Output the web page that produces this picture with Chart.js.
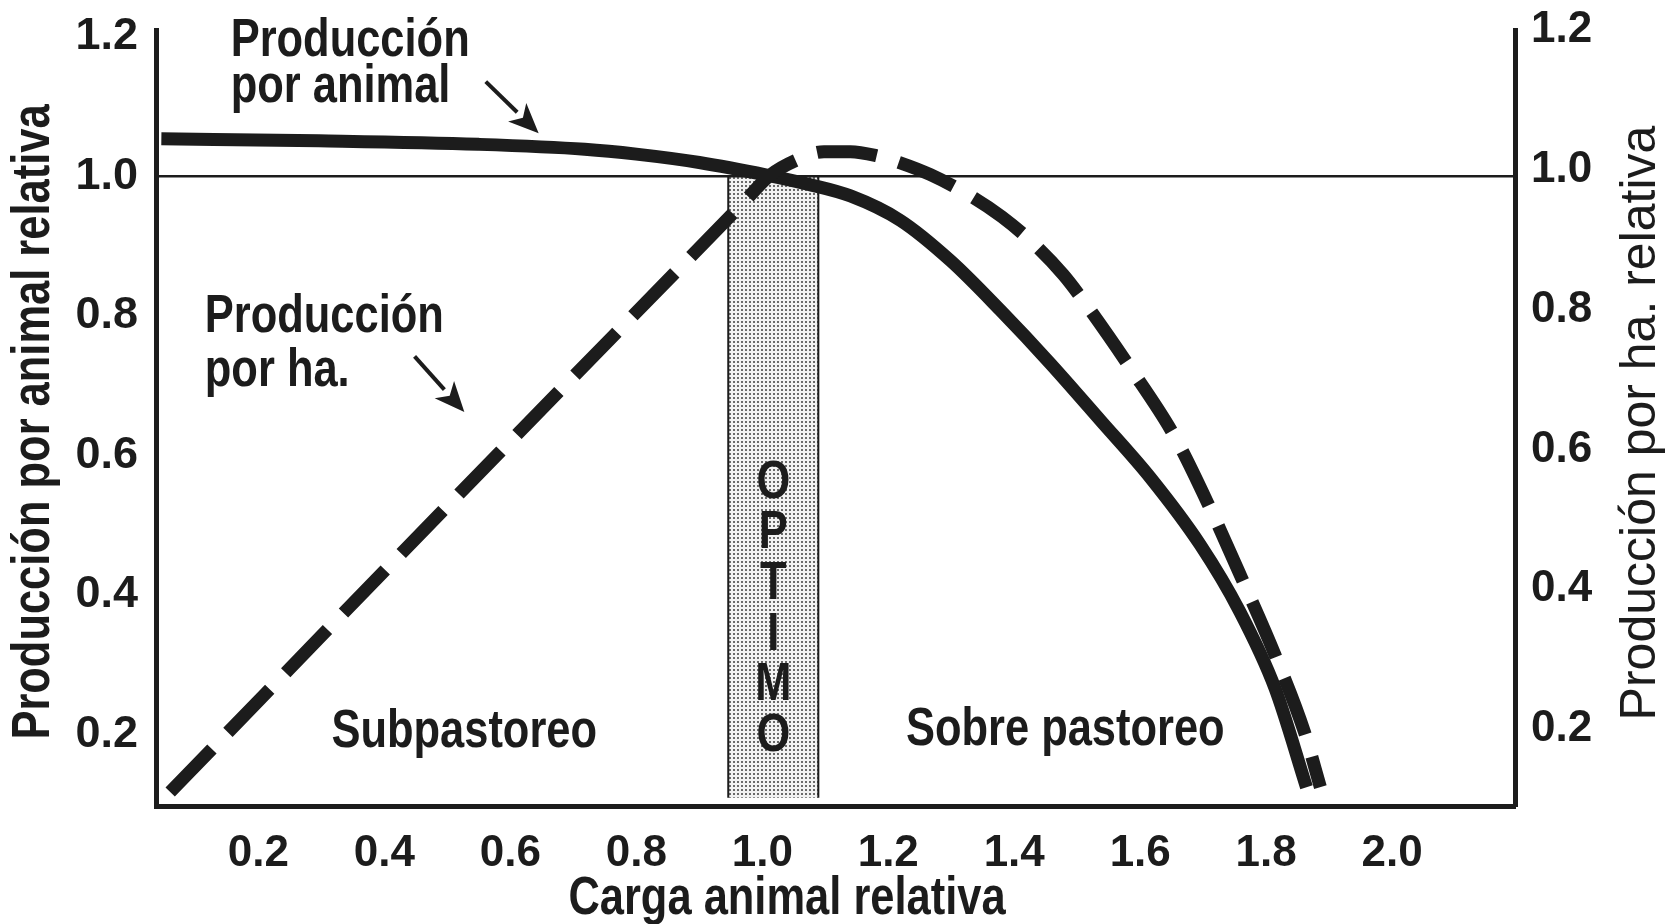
<!DOCTYPE html>
<html>
<head>
<meta charset="utf-8">
<script src="https://cdn.jsdelivr.net/npm/chart.js@4.4.1/dist/chart.umd.min.js"></script>
<style>
  html, body { margin: 0; padding: 0; background: #fff; }
  #wrap { width: 1667px; height: 924px; position: relative; }
</style>
</head>
<body>
<div id="wrap"><canvas id="chart"></canvas></div>
<script>
// values (carga animal relativa on x)
const porAnimalX = [0.046, 0.296, 0.549, 0.718, 0.800, 0.900, 1.007, 1.072, 1.140, 1.219, 1.299, 1.378, 1.457, 1.537, 1.616, 1.695, 1.758, 1.814, 1.864];
const porAnimalY = [1.054, 1.051, 1.046, 1.039, 1.032, 1.020, 1.002, 0.989, 0.972, 0.937, 0.879, 0.808, 0.732, 0.650, 0.568, 0.472, 0.376, 0.266, 0.124];

const porHaX = [0.060, 0.515, 0.971, 1.012, 1.052, 1.098, 1.140, 1.182, 1.219, 1.267, 1.332, 1.380, 1.429, 1.478, 1.508, 1.584, 1.655, 1.711, 1.761, 1.814, 1.861, 1.886];
const porHaY = [0.110, 0.533, 0.954, 0.992, 1.013, 1.026, 1.026, 1.020, 1.010, 0.993, 0.962, 0.933, 0.896, 0.850, 0.815, 0.717, 0.618, 0.516, 0.416, 0.306, 0.195, 0.117];

const optimoX = [0.946, 1.089];
const optimoTop = 1.0;
const optimoBottom = 0.109;

const xTicks = [0.2, 0.4, 0.6, 0.8, 1.0, 1.2, 1.4, 1.6, 1.8, 2.0];
const yTicks = [0.2, 0.4, 0.6, 0.8, 1.0, 1.2];

const INK = '#1c1c1c';
const SANS = "'Liberation Sans', Arial, sans-serif";
const SQUEEZE = 0.82;   // the figure uses a narrow face

// text notes and arrows, placed in data coordinates
const notes = [
  { text: 'Producción', x: 0.156, y: 1.172 },
  { text: 'por animal', x: 0.156, y: 1.107 },
  { text: 'Producción', x: 0.115, y: 0.777 },
  { text: 'por ha.', x: 0.115, y: 0.700 },
  { text: 'Subpastoreo', x: 0.316, y: 0.182 },
  { text: 'Sobre pastoreo', x: 1.228, y: 0.185 }
];
const arrows = [
  { from: [0.561, 1.136], to: [0.645, 1.062] },
  { from: [0.448, 0.742], to: [0.527, 0.662] }
];

function dots() {
  const c = document.createElement('canvas');
  c.width = 4; c.height = 4;
  const g = c.getContext('2d');
  g.fillStyle = '#f2f2f2';
  g.fillRect(0, 0, 4, 4);
  g.fillStyle = '#6a6a6a';
  g.fillRect(1, 1, 2, 2);
  return g.createPattern(c, 'repeat');
}

function narrowText(ctx, text, x, y, rot) {
  ctx.save();
  ctx.translate(x, y);
  if (rot) ctx.rotate(rot);
  ctx.scale(SQUEEZE, 1);
  ctx.fillText(text, 0, 0);
  ctx.restore();
}

function drawArrow(ctx, x0, y0, x1, y1) {
  const a = Math.atan2(y1 - y0, x1 - x0);
  const len = 30, half = 13;
  const bx = x1 - Math.cos(a) * len, by = y1 - Math.sin(a) * len;
  ctx.lineWidth = 4;
  ctx.beginPath();
  ctx.moveTo(x0, y0);
  ctx.lineTo(bx, by);
  ctx.stroke();
  ctx.beginPath();
  ctx.moveTo(x1, y1);
  ctx.lineTo(bx + Math.sin(a) * half, by - Math.cos(a) * half);
  ctx.lineTo(bx + Math.cos(a) * 8, by + Math.sin(a) * 8);
  ctx.lineTo(bx - Math.sin(a) * half, by + Math.cos(a) * half);
  ctx.closePath();
  ctx.fill();
}

const notesPlugin = {
  id: 'notesPlugin',
  afterDatasetsDraw(chart) {
    const ctx = chart.ctx;
    const xs = chart.scales.x, ys = chart.scales.y;
    ctx.save();
    ctx.fillStyle = INK;
    ctx.strokeStyle = INK;
    ctx.font = `bold 53px ${SANS}`;
    ctx.textAlign = 'left';
    ctx.textBaseline = 'alphabetic';
    notes.forEach(n => narrowText(ctx, n.text, xs.getPixelForValue(n.x), ys.getPixelForValue(n.y)));

    arrows.forEach(a => drawArrow(ctx,
      xs.getPixelForValue(a.from[0]), ys.getPixelForValue(a.from[1]),
      xs.getPixelForValue(a.to[0]), ys.getPixelForValue(a.to[1])));

    // OPTIMO written down the band
    ctx.textAlign = 'center';
    const cx = xs.getPixelForValue((optimoX[0] + optimoX[1]) / 2);
    const y0 = ys.getPixelForValue(0.539);
    'OPTIMO'.split('').forEach((ch, i) => narrowText(ctx, ch, cx, y0 + i * 50.6));

    // axis titles
    ctx.textBaseline = 'middle';
    narrowText(ctx, 'Carga animal relativa', 787, 899);
    narrowText(ctx, 'Producción por animal relativa', 34, 422, -Math.PI / 2);
    ctx.font = `50px ${SANS}`;
    ctx.save();
    ctx.translate(1641, 423);
    ctx.rotate(-Math.PI / 2);
    ctx.fillText('Producción por ha. relativa', 0, 0);
    ctx.restore();
    ctx.restore();
  }
};

function noEdgePad(s) {
  s.paddingTop = 0; s.paddingBottom = 0;
  s.paddingLeft = 0; s.paddingRight = 0;
}

const ctx = document.getElementById('chart').getContext('2d');

const chart = new Chart(ctx, {
  type: 'line',
  data: {
    datasets: [
      {
        label: 'Producción por animal',
        data: porAnimalX.map((x, i) => ({ x: x, y: porAnimalY[i] })),
        borderColor: INK,
        borderWidth: 13,
        pointRadius: 0,
        cubicInterpolationMode: 'monotone',
        fill: false,
        order: 2
      },
      {
        label: 'Producción por ha.',
        data: porHaX.map((x, i) => ({ x: x, y: porHaY[i] })),
        yAxisID: 'y2',
        borderColor: INK,
        borderWidth: 13,
        borderDash: [60, 23],
        pointRadius: 0,
        cubicInterpolationMode: 'monotone',
        fill: false,
        order: 1
      },
      {
        label: 'Optimo',
        data: [
          { x: optimoX[0], y: optimoBottom },
          { x: optimoX[0], y: optimoTop },
          { x: optimoX[1], y: optimoTop },
          { x: optimoX[1], y: optimoBottom }
        ],
        borderColor: INK,
        borderWidth: 2,
        backgroundColor: dots(),
        pointRadius: 0,
        tension: 0,
        fill: { value: optimoBottom },
        order: 10
      }
    ]
  },
  options: {
    responsive: true,
    maintainAspectRatio: false,
    animation: false,
    layout: { padding: { top: 30, left: 0, right: 0, bottom: 0 } },
    plugins: {
      legend: { display: false },
      tooltip: { enabled: false }
    },
    scales: {
      x: {
        type: 'linear',
        min: 0.0375,
        max: 2.195,
        afterBuildTicks: s => { s.ticks = xTicks.map(v => ({ value: v })); },
        afterFit: s => { s.height = 118; noEdgePad(s); },
        grid: { display: false },
        border: { display: true, color: INK, width: 5 },
        ticks: {
          padding: 13,
          color: INK,
          maxRotation: 0,
          autoSkip: false,
          font: { family: SANS, size: 44, weight: 'bold' },
          callback: v => v.toFixed(1)
        }
      },
      y: {
        position: 'left',
        min: 0.097,
        max: 1.210,
        afterBuildTicks: s => { s.ticks = yTicks.map(v => ({ value: v })); },
        afterFit: s => { s.width = 156; noEdgePad(s); },
        grid: {
          drawTicks: false,
          lineWidth: 2.5,
          color: c => (c.tick && Math.abs(c.tick.value - 1) < 1e-6) ? INK : 'rgba(0,0,0,0)'
        },
        border: { display: true, color: INK, width: 5 },
        ticks: {
          padding: 18,
          color: INK,
          autoSkip: false,
          font: { family: SANS, size: 45, weight: 'bold' },
          callback: v => v.toFixed(1)
        }
      },
      y2: {
        position: 'right',
        min: 0.09,
        max: 1.2,
        afterBuildTicks: s => { s.ticks = yTicks.map(v => ({ value: v })); },
        afterFit: s => { s.width = 152; noEdgePad(s); },
        grid: { display: false, drawTicks: false },
        border: { display: true, color: INK, width: 5 },
        ticks: {
          padding: 16,
          color: INK,
          autoSkip: false,
          font: { family: SANS, size: 44, weight: 'bold' },
          callback: v => v.toFixed(1)
        }
      }
    }
  },
  plugins: [notesPlugin]
});
</script>
</body>
</html>
